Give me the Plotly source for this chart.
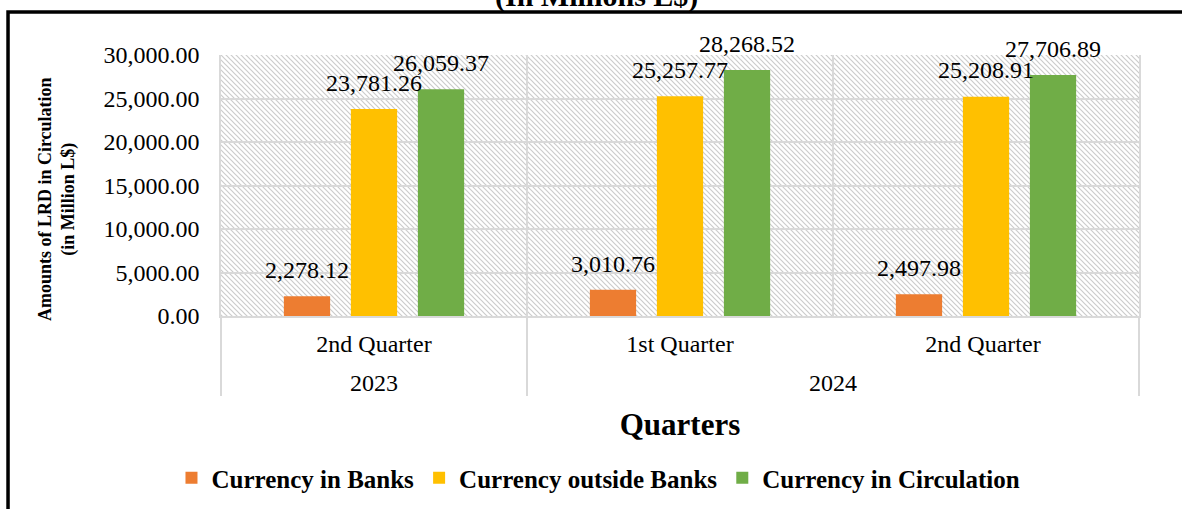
import base64
import plotly.graph_objects as go

# ---- data ----
years = ["2023", "2024", "2024"]
# trailing space keeps plotly's multicategory order as given (1st before 2nd in 2024)
quarters = ["2nd Quarter", "1st Quarter", "2nd Quarter "]
series_names = ["Currency in Banks", "Currency outside Banks", "Currency in Circulation"]
banks = [2278.12, 3010.76, 2497.98]
outside_banks = [23781.26, 25257.77, 25208.91]
circulation = [26059.37, 28268.52, 27706.89]
y_ticks = [0, 5000, 10000, 15000, 20000, 25000, 30000]

colors = ["#ED7D31", "#FFC000", "#70AD47"]
values = [banks, outside_banks, circulation]

SERIF = "Liberation Serif, Times New Roman, serif"
GRID = "#D9D9D9"

# outer (year) labels nudged lower, as in the reference
year_labels = [f"<span style='baseline-shift:-16px'>{y}</span>" for y in years]

fig = go.Figure()
for name, vals, col in zip(series_names, values, colors):
    fig.add_trace(go.Bar(
        name=name, x=[year_labels, quarters], y=vals,
        marker=dict(color=col, line=dict(width=0)),
        hoverinfo="skip",
    ))
for name, vals in zip(series_names, values):
    fig.add_trace(go.Scatter(
        x=[year_labels, quarters], y=vals, mode="markers+text",
        text=[f"{v:,.2f}" for v in vals], textposition="top center",
        textfont=dict(family=SERIF, size=24, color="#000000"),
        marker=dict(size=18, opacity=0),
        showlegend=False, hoverinfo="skip", cliponaxis=False,
    ))

# hatch background for plot area
svg = ('<svg xmlns="http://www.w3.org/2000/svg" width="918" height="261">'
       '<defs><pattern id="p" width="5" height="5" patternUnits="userSpaceOnUse">'
       '<path d="M0,0 L5,5 M-1,4 L1,6 M4,-1 L6,1" stroke="#CCCCCC" stroke-width="1.2"/>'
       '</pattern></defs><rect width="100%" height="100%" fill="url(#p)"/></svg>')
src = "data:image/svg+xml;base64," + base64.b64encode(svg.encode()).decode()

fig.update_layout(
    width=1182, height=509,
    margin=dict(l=221, r=43, t=55, b=193, autoexpand=False),
    paper_bgcolor="white", plot_bgcolor="rgba(0,0,0,0)",
    barmode="group", bargap=0.343, bargroupgap=0.31,
    scattermode="group", scattergap=0.343,
    font=dict(family=SERIF, size=24, color="#000000"),
    showlegend=True,
    legend=dict(orientation="h", x=0.4112, xanchor="center", y=-0.6207, yanchor="middle",
                font=dict(family=SERIF, size=25, color="#000000", weight="bold"),
                traceorder="normal", bgcolor="rgba(0,0,0,0)"),
    images=[dict(source=src, xref="paper", yref="paper", x=0, y=1, sizex=1, sizey=1,
                 xanchor="left", yanchor="top", sizing="stretch", layer="below")],
    shapes=[dict(type="rect", xref="paper", yref="paper", x0=-0.232, x1=1.09, y0=-0.9, y1=1.1648,
                 line=dict(color="#000000", width=3.5), fillcolor="rgba(0,0,0,0)")],
    annotations=[
        dict(text="<b>(In Millions L$)</b>", xref="paper", yref="paper", x=0.409, y=1.155,
             xanchor="center", yanchor="bottom", showarrow=False,
             font=dict(family=SERIF, size=30, color="#000000")),
        dict(text="<b>Amounts of LRD in Circulation<br>(in Million L$)</b>", xref="paper", yref="paper",
             x=-0.1786, y=0.448, xanchor="center", yanchor="middle", textangle=-90, showarrow=False,
             font=dict(family=SERIF, size=18, color="#000000")),
    ],
)
fig.update_xaxes(
    showgrid=True, gridcolor=GRID, gridwidth=1.5, tickson="boundaries",
    showdividers=True, dividercolor=GRID, dividerwidth=1.5,
    ticks="", ticklabelstandoff=5,
    showline=True, linecolor=GRID, linewidth=1.5,
    tickfont=dict(family=SERIF, size=24),
    title=dict(text="<b>Quarters</b>", font=dict(family=SERIF, size=31), standoff=19),
)
fig.update_yaxes(
    range=[0, 30000], tickvals=y_ticks, tickformat=",.2f",
    showgrid=True, gridcolor=GRID, gridwidth=1.5, zeroline=False,
    ticks="outside", ticklen=15, tickcolor="rgba(0,0,0,0)",
    showline=True, linecolor=GRID, linewidth=1.5, mirror=True,
    tickfont=dict(family=SERIF, size=24),
)

fig.write_html("out.html", config={"displayModeBar": False},
               post_script="document.body.style.margin='0';")
